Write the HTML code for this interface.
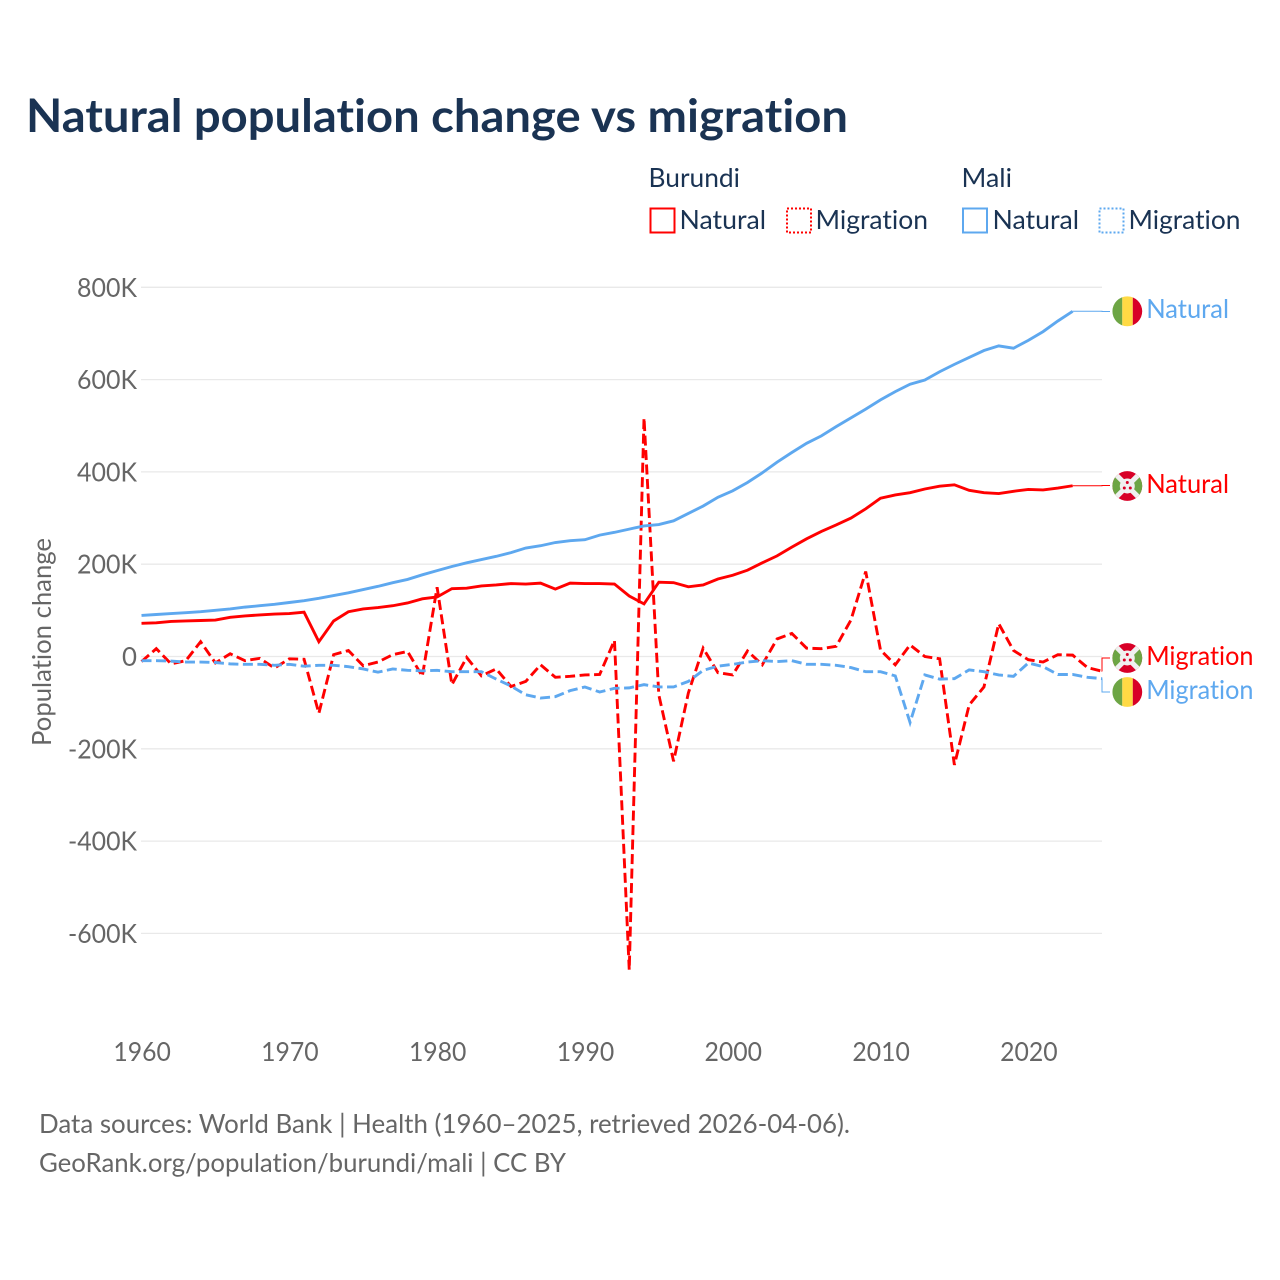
<!DOCTYPE html>
<html lang="en">
<head>
<meta charset="utf-8">
<title>Natural population change vs migration</title>
<style>
html,body{margin:0;padding:0;background:#fff;}
svg{display:block;font-family:"Lato","Carlito","Liberation Sans",sans-serif;font-variant-ligatures:none;font-feature-settings:"liga" 0,"clig" 0;}
</style>
</head>
<body>
<svg id="chart" width="1280" height="1280" viewBox="0 0 1280 1280" xmlns="http://www.w3.org/2000/svg">
<defs>
<clipPath id="flag-clip"><circle cx="0" cy="0" r="14.9"/></clipPath>
<g id="flag-mali" clip-path="url(#flag-clip)">
<rect x="-15" y="-16" width="10" height="32" fill="#6da544"/>
<rect x="-5" y="-16" width="10.5" height="32" fill="#ffda44"/>
<rect x="5.5" y="-16" width="10" height="32" fill="#d80027"/>
</g>
<g id="flag-burundi" clip-path="url(#flag-clip)">
<rect x="-16" y="-16" width="32" height="32" fill="#d80027"/>
<polygon points="-16,-16 0,0 -16,16" fill="#6da544"/>
<polygon points="16,-16 0,0 16,16" fill="#6da544"/>
<line x1="-15" y1="-15" x2="15" y2="15" stroke="#f0f0f0" stroke-width="5"/>
<line x1="-15" y1="15" x2="15" y2="-15" stroke="#f0f0f0" stroke-width="5"/>
<circle r="7.5" fill="#f0f0f0"/>
<circle cx="0" cy="-3.5" r="1.5" fill="#d80027"/>
<circle cx="-3" cy="2" r="1.5" fill="#d80027"/>
<circle cx="3" cy="2" r="1.5" fill="#d80027"/>
</g>
</defs>
<rect width="1280" height="1280" fill="#fff"/>

<text x="26" y="132" font-size="46" font-weight="700" fill="#1a3353" textLength="822" lengthAdjust="spacingAndGlyphs">Natural population change vs migration</text>

<g font-size="26" fill="#1a3353">
<text x="648.5" y="187" textLength="91.5" lengthAdjust="spacingAndGlyphs">Burundi</text>
<text x="961.5" y="187" textLength="50.5" lengthAdjust="spacingAndGlyphs">Mali</text>
<rect x="650.5" y="208.5" width="24" height="24" fill="none" stroke="#ff0000" stroke-width="2"/>
<text x="679.5" y="229" textLength="86.5" lengthAdjust="spacingAndGlyphs">Natural</text>
<rect x="787" y="208.5" width="24" height="24" fill="none" stroke="#ff0000" stroke-width="2" stroke-dasharray="2 2"/>
<text x="815.5" y="229" textLength="112.5" lengthAdjust="spacingAndGlyphs">Migration</text>
<rect x="963" y="208.5" width="24" height="24" fill="none" stroke="#5ea8ef" stroke-width="2"/>
<text x="992.5" y="229" textLength="86.5" lengthAdjust="spacingAndGlyphs">Natural</text>
<rect x="1099.5" y="208.5" width="24" height="24" fill="none" stroke="#5ea8ef" stroke-width="2" stroke-dasharray="2 2"/>
<text x="1128.5" y="229" textLength="112" lengthAdjust="spacingAndGlyphs">Migration</text>
</g>

<g id="grid"></g>
<g id="yticks" font-size="26" fill="#666" text-anchor="end"></g>
<g id="xticks" font-size="26" fill="#666" text-anchor="middle"></g>
<text transform="translate(51,642) rotate(-90)" font-size="26" fill="#666" text-anchor="middle" textLength="208" lengthAdjust="spacingAndGlyphs">Population change</text>

<g id="series"></g>
<g id="connectors"></g>

<g font-size="26">
<use href="#flag-mali" x="1127.3" y="311.3"/>
<text x="1146.2" y="318" fill="#5ea8ef" textLength="82.8" lengthAdjust="spacingAndGlyphs">Natural</text>
<use href="#flag-burundi" x="1127.3" y="486"/>
<text x="1146.2" y="493" fill="#ff0000" textLength="82.8" lengthAdjust="spacingAndGlyphs">Natural</text>
<use href="#flag-burundi" x="1127.3" y="658"/>
<text x="1146.2" y="665" fill="#ff0000" textLength="107.3" lengthAdjust="spacingAndGlyphs">Migration</text>
<use href="#flag-mali" x="1127.3" y="692"/>
<text x="1146.2" y="699" fill="#5ea8ef" textLength="107.3" lengthAdjust="spacingAndGlyphs">Migration</text>
</g>

<g font-size="26" fill="#666">
<text x="39" y="1133" textLength="811" lengthAdjust="spacingAndGlyphs">Data sources: World Bank | Health (1960–2025, retrieved 2026-04-06).</text>
<text x="39" y="1172" textLength="527" lengthAdjust="spacingAndGlyphs">GeoRank.org/population/burundi/mali | CC BY</text>
</g>
</svg>

<script>
const startYear = 1960;
const yTickValues = [800, 600, 400, 200, 0, -200, -400, -600];
const yTickLabels = ["800K", "600K", "400K", "200K", "0", "-200K", "-400K", "-600K"];
const xTickValues = [1960, 1970, 1980, 1990, 2000, 2010, 2020];
const xTickLabels = ["1960", "1970", "1980", "1990", "2000", "2010", "2020"];

const burundiNatural = [72,73,76,77,78,79,85,88,90,92,93,96,32,77,97,103,106,110,116,125,129,147,148,153,155,158,157,159,146,159,158,158,157,131,114,161,160,151,155,168,176,187,203,218,237,255,271,285,300,320,343,350,355,363,369,372,360,355,353,358,362,361,365,370];
const maliNatural = [89,91,93,95,97,100,103,107,110,113,117,121,126,132,138,145,152,160,167,177,186,195,203,210,217,225,235,240,247,251,253,263,269,276,283,286,294,310,326,345,359,377,398,421,442,462,478,498,517,536,556,574,590,599,617,633,648,663,673,668,685,704,727,748];
const burundiMigration = [-11,17,-16,-9,32,-14,6,-9,-4,-25,-5,-6,-123,4,13,-20,-12,4,11,-43,150,-61,-2,-42,-27,-65,-54,-18,-45,-43,-40,-39,35,-679,517,-83,-227,-79,18,-35,-40,12,-18,38,50,18,17,22,79,184,14,-18,25,0,-5,-235,-105,-66,71,13,-7,-12,4,3,-24,-32];
const maliMigration = [-9,-9,-10,-12,-12,-13,-16,-17,-17,-19,-17,-21,-19,-19,-22,-27,-34,-27,-30,-31,-30,-33,-33,-33,-49,-64,-83,-90,-87,-74,-66,-77,-69,-68,-61,-66,-66,-54,-30,-21,-17,-12,-9,-11,-9,-17,-17,-19,-24,-33,-33,-42,-143,-40,-49,-48,-29,-33,-40,-43,-14,-22,-39,-39,-45,-48];

const NS = "http://www.w3.org/2000/svg";
const RED = "#ff0000";
const BLUE = "#5ea8ef";
const LINE_WIDTH = "2.9";
const DASH = "10 4.5";
const xScale = function (year) { return 141.5 + (year - 1960) * 14.78; };
const yScale = function (k) { return 656.5 - k * 0.4615; };
const make = function (tag, parent) {
  const el = document.createElementNS(NS, tag);
  parent.appendChild(el);
  return el;
};

const gridGroup = document.getElementById("grid");
const yGroup = document.getElementById("yticks");
yTickValues.forEach(function (v, i) {
  const line = make("line", gridGroup);
  
  
  line.setAttribute("x1", 141);
  line.setAttribute("x2", 1102);
  line.setAttribute("y1", yScale(v));
  line.setAttribute("y2", yScale(v));
  line.setAttribute("stroke", "#e9e9e9");
  line.setAttribute("stroke-width", "1.3");
  const t = make("text", yGroup);
  
  
  t.setAttribute("x", 137);
  t.setAttribute("y", yScale(v) + 9.5);
  const label = yTickLabels[i];
  t.setAttribute("textLength", label.length === 1 ? 15 : (label.length === 4 ? 60 : 69));
  t.setAttribute("lengthAdjust", "spacingAndGlyphs");
  t.textContent = label;
});

const xGroup = document.getElementById("xticks");
xTickValues.forEach(function (v, i) {
  const t = make("text", xGroup);
  
  
  t.setAttribute("x", xScale(v) + 0.6);
  t.setAttribute("y", 1061);
  t.setAttribute("textLength", 57.5);
  t.setAttribute("lengthAdjust", "spacingAndGlyphs");
  t.textContent = xTickLabels[i];
});

const pointsFor = function (values) {
  return values.map(function (v, i) {
    return xScale(startYear + i).toFixed(2) + "," + yScale(v).toFixed(2);
  }).join(" ");
};
const seriesGroup = document.getElementById("series");

const lineBurundiNatural = make("polyline", seriesGroup);


lineBurundiNatural.setAttribute("points", pointsFor(burundiNatural));
lineBurundiNatural.setAttribute("fill", "none");
lineBurundiNatural.setAttribute("stroke", RED);
lineBurundiNatural.setAttribute("stroke-width", LINE_WIDTH);

const lineBurundiMigration = make("polyline", seriesGroup);


lineBurundiMigration.setAttribute("points", pointsFor(burundiMigration));
lineBurundiMigration.setAttribute("fill", "none");
lineBurundiMigration.setAttribute("stroke", RED);
lineBurundiMigration.setAttribute("stroke-width", LINE_WIDTH);
lineBurundiMigration.setAttribute("stroke-dasharray", DASH);

const lineMaliNatural = make("polyline", seriesGroup);


lineMaliNatural.setAttribute("points", pointsFor(maliNatural));
lineMaliNatural.setAttribute("fill", "none");
lineMaliNatural.setAttribute("stroke", BLUE);
lineMaliNatural.setAttribute("stroke-width", LINE_WIDTH);

const lineMaliMigration = make("polyline", seriesGroup);


lineMaliMigration.setAttribute("points", pointsFor(maliMigration));
lineMaliMigration.setAttribute("fill", "none");
lineMaliMigration.setAttribute("stroke", BLUE);
lineMaliMigration.setAttribute("stroke-width", LINE_WIDTH);
lineMaliMigration.setAttribute("stroke-dasharray", DASH);

const connectorsGroup = document.getElementById("connectors");
const elbowPoints = function (values, targetY) {
  const n = values.length - 1;
  const px = xScale(startYear + n);
  const py = yScale(values[n]);
  return px.toFixed(2) + "," + py.toFixed(2) + " 1102," + py.toFixed(2) + " 1102," + targetY + " 1110," + targetY;
};

const connectorMaliNatural = make("polyline", connectorsGroup);


connectorMaliNatural.setAttribute("points", elbowPoints(maliNatural, 311.5));
connectorMaliNatural.setAttribute("fill", "none");
connectorMaliNatural.setAttribute("stroke", BLUE);
connectorMaliNatural.setAttribute("stroke-width", "1");

const connectorBurundiNatural = make("polyline", connectorsGroup);


connectorBurundiNatural.setAttribute("points", elbowPoints(burundiNatural, 485.5));
connectorBurundiNatural.setAttribute("fill", "none");
connectorBurundiNatural.setAttribute("stroke", RED);
connectorBurundiNatural.setAttribute("stroke-width", "1");

const connectorBurundiMigration = make("polyline", connectorsGroup);


connectorBurundiMigration.setAttribute("points", elbowPoints(burundiMigration, 658));
connectorBurundiMigration.setAttribute("fill", "none");
connectorBurundiMigration.setAttribute("stroke", RED);
connectorBurundiMigration.setAttribute("stroke-width", "1");

const connectorMaliMigration = make("polyline", connectorsGroup);


connectorMaliMigration.setAttribute("points", elbowPoints(maliMigration, 692));
connectorMaliMigration.setAttribute("fill", "none");
connectorMaliMigration.setAttribute("stroke", BLUE);
connectorMaliMigration.setAttribute("stroke-width", "1");
</script>
</body>
</html>
